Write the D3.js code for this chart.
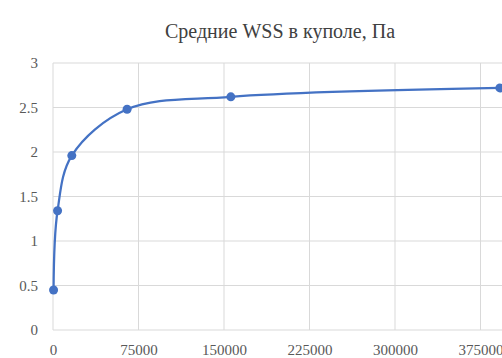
<!DOCTYPE html>
<html>
<head>
<meta charset="utf-8">
<script src="https://cdn.jsdelivr.net/npm/d3@7"></script>
<style>
  html, body { margin: 0; padding: 0; background: #fff; overflow: hidden; }
  svg { display: block; }
</style>
</head>
<body>
<svg id="chart" width="502" height="358" font-family="Liberation Serif"></svg>
<script>
// Mean WSS in the dome vs. x value
const xValues = [500, 4000, 16500, 65000, 156000, 392000];
const yValues = [0.45, 1.34, 1.96, 2.48, 2.62, 2.72];
const xTicks = [0, 75000, 150000, 225000, 300000, 375000];
const yTicks = [0, 0.5, 1, 1.5, 2, 2.5, 3];
const title = "Средние WSS в куполе, Па";

const svg = d3.select("#chart");
const plotLeft = 53, plotTop = 63, plotBottom = 330;
const x = d3.scaleLinear().domain([0, 400000]).range([plotLeft, plotLeft + 456]);
const y = d3.scaleLinear().domain([0, 3]).range([plotBottom, plotTop]);

const points = xValues.map((v, i) => ({ x: v, y: yValues[i] }));
const blue = "#4472C4";

// gridlines
svg.append("g").selectAll("line").data(yTicks).join("line")
  .attr("x1", plotLeft).attr("x2", 510)
  .attr("y1", d => y(d)).attr("y2", d => y(d))
  .attr("stroke", "#d9d9d9").attr("stroke-width", 1);
svg.append("g").selectAll("line").data(xTicks).join("line")
  .attr("x1", d => x(d)).attr("x2", d => x(d))
  .attr("y1", plotTop).attr("y2", plotBottom)
  .attr("stroke", "#d9d9d9").attr("stroke-width", 1);

// axes (labels only)
const yAxis = svg.append("g").attr("transform", `translate(${plotLeft - 15},0)`)
  .call(d3.axisLeft(y).tickValues(yTicks).tickSize(0).tickPadding(0).tickFormat(d => String(d)));
yAxis.select(".domain").remove();
yAxis.attr("font-family", "Liberation Serif").attr("font-size", 15);
yAxis.selectAll("text").attr("fill", "#595959");

const xAxis = svg.append("g").attr("transform", `translate(0,${plotBottom + 14})`)
  .call(d3.axisBottom(x).tickValues(xTicks).tickSize(0).tickPadding(0).tickFormat(d => String(d)));
xAxis.select(".domain").remove();
xAxis.attr("font-family", "Liberation Serif").attr("font-size", 15);
xAxis.selectAll("text").attr("fill", "#595959");

// smoothed line
const line = d3.line().x(d => x(d.x)).y(d => y(d.y)).curve(d3.curveCatmullRom.alpha(0.5));
svg.append("path").datum(points)
  .attr("d", line).attr("fill", "none")
  .attr("stroke", blue).attr("stroke-width", 2.25);

// markers
svg.append("g").selectAll("circle").data(points).join("circle")
  .attr("cx", d => x(d.x)).attr("cy", d => y(d.y)).attr("r", 4.5)
  .attr("fill", blue);

// title
svg.append("text").attr("x", 280).attr("y", 38).attr("text-anchor", "middle")
  .attr("font-family", "Liberation Serif").attr("font-size", 20)
  .attr("fill", "#404040").text(title);
</script>
</body>
</html>
